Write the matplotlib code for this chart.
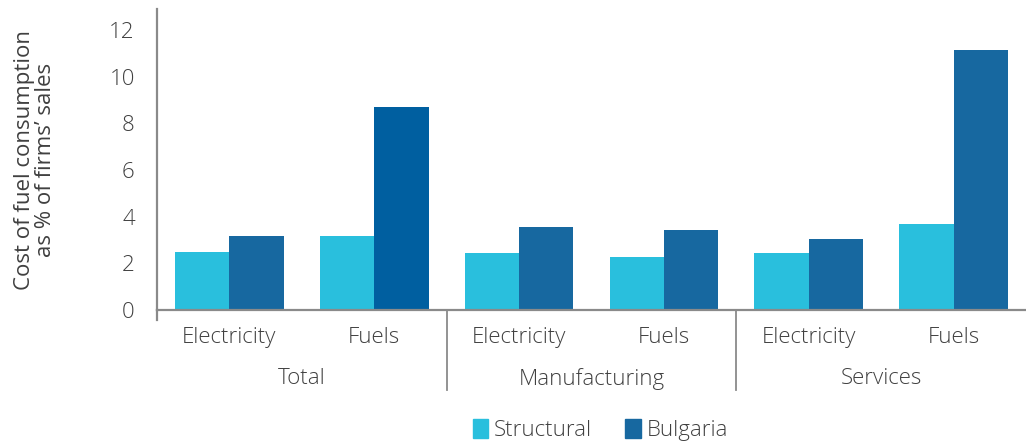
import matplotlib
matplotlib.use("Agg")
import matplotlib.pyplot as plt
from matplotlib.lines import Line2D
from matplotlib.patches import Patch
import numpy as np

# cost of fuel consumption, % of firms' sales
sectors = ["Total", "Manufacturing", "Services"]
energy_types = ["Electricity", "Fuels"]
structural = [2.49, 3.17, 2.44, 2.27, 2.44, 3.69]
bulgaria = [3.17, 8.70, 3.56, 3.43, 3.04, 11.14]

c_struct = "#29BFDD"
c_bg = "#1768A0"
c_bg_total_fuels = "#005FA0"
text_col = "#404040"
axis_col = "#8a8a8a"

plt.rcParams["font.family"] = ["Open Sans", "DejaVu Sans"]
plt.rcParams["font.weight"] = "light"
fs = 16

fig = plt.figure(figsize=(10.26, 4.42), dpi=100)
ax = fig.add_axes([157 / 1026, 132 / 442, 1 - 157 / 1026, 301 / 442])

n = len(structural)
x = np.arange(n)
w = 0.375
bg_colors = [c_bg] * n
bg_colors[1] = c_bg_total_fuels
ax.bar(x - w / 2, structural, w, color=c_struct)
ax.bar(x + w / 2, bulgaria, w, color=bg_colors)

ax.set_xlim(-0.5, n - 0.5)
ax.set_ylim(0, 12.9)
ax.set_yticks(range(0, 13, 2))
ax.tick_params(axis="y", length=0, pad=16, labelsize=fs, labelcolor=text_col)

cat_labels = [t for _ in sectors for t in energy_types]
ax.set_xticks(x)
ax.set_xticklabels(cat_labels)
ax.tick_params(axis="x", length=0, pad=12, labelsize=fs, labelcolor=text_col)

for s in ["top", "right"]:
    ax.spines[s].set_visible(False)
for s in ["left", "bottom"]:
    ax.spines[s].set_color(axis_col)
    ax.spines[s].set_linewidth(1.6)

xt = ax.get_xaxis_transform()
# group separators below the axis
for b in [1.5, 3.5]:
    ax.add_line(Line2D([b, b], [0, -0.266], transform=xt, color=axis_col,
                       lw=1.3, clip_on=False))
ax.add_line(Line2D([-0.5, -0.5], [0, -0.033], transform=xt, color=axis_col,
                   lw=1.6, clip_on=False))

for i, name in enumerate(sectors):
    ax.text(2 * i + 0.5, -0.228, name, transform=xt, ha="center", va="center",
            fontsize=fs, color=text_col)

ax.set_ylabel("Cost of fuel consumption\nas % of firms’ sales", fontsize=fs,
              color=text_col, labelpad=38, linespacing=1.05)

handles = [Patch(color=c_struct, label="Structural"),
           Patch(color=c_bg, label="Bulgaria")]
leg = fig.legend(handles=handles, loc="center", bbox_to_anchor=(0.585, 0.027),
                 ncol=2, frameon=False, fontsize=fs, handlelength=0.7,
                 handleheight=0.95, handletextpad=0.25, columnspacing=1.5)
for t in leg.get_texts():
    t.set_color(text_col)

fig.savefig("out.png", dpi=100)
